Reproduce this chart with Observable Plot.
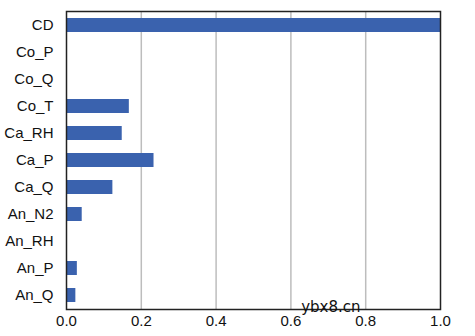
<!DOCTYPE html>
<html>
<head>
<meta charset="utf-8">
<script src="https://cdn.jsdelivr.net/npm/d3@7"></script>
<script src="https://cdn.jsdelivr.net/npm/@observablehq/plot@0.6"></script>
<style>
  html, body { margin: 0; padding: 0; background: #fff; }
  #chart svg { display: block; }
</style>
</head>
<body>
<div id="chart"></div>
<script>
const categories = ["CD", "Co_P", "Co_Q", "Co_T", "Ca_RH", "Ca_P", "Ca_Q", "An_N2", "An_RH", "An_P", "An_Q"];
const values = [1.0, 0, 0, 0.168, 0.149, 0.234, 0.124, 0.042, 0, 0.029, 0.025];
const xTicks = [0, 0.2, 0.4, 0.6, 0.8, 1.0];
const gridTicks = [0.2, 0.4, 0.6, 0.8];
const watermark = ["ybx8.cn"];

const data = categories.map((c, i) => ({category: c, value: values[i]}));

const chart = Plot.plot({
  width: 475,
  height: 336,
  marginLeft: 66,
  marginRight: 35,
  marginTop: 11,
  marginBottom: 27,
  style: {fontFamily: "Liberation Sans, Arial, sans-serif", fontSize: "15px", color: "#111", background: "#fff"},
  x: {domain: [0, 1], ticks: xTicks, tickFormat: d3.format(".1f"), tickSize: 0, tickPadding: 6, label: null},
  y: {domain: categories, paddingInner: 0.49, paddingOuter: 0.22, tickSize: 0, tickPadding: 13, label: null},
  marks: [
    Plot.ruleX(gridTicks, {stroke: "#bdbdbd", strokeWidth: 1.5}),
    Plot.barX(data, {x: "value", y: "category", fill: "#3a62ae"}),
    Plot.frame({stroke: "#222", strokeWidth: 1.5}),
    Plot.text(watermark, {frameAnchor: "bottom-right", text: d => d, dx: -80, dy: 2, textAnchor: "end", fontSize: 15, fontFamily: "DejaVu Sans, sans-serif", fill: "#111"})
  ]
});
document.getElementById("chart").appendChild(chart);
</script>
</body>
</html>
